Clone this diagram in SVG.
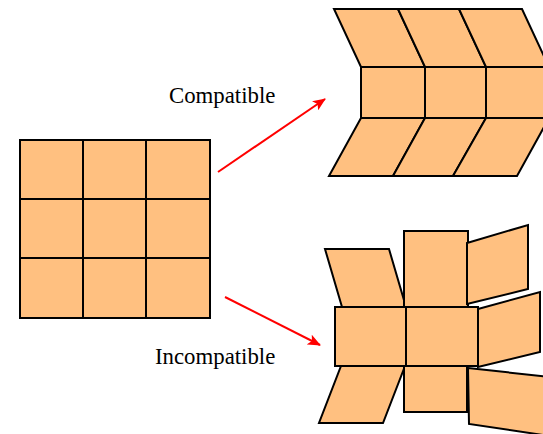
<svg xmlns="http://www.w3.org/2000/svg" width="543" height="434" viewBox="0 0 543 434">
  <style>
    .tile { fill: #FFC080; stroke: #000; stroke-width: 2; stroke-linejoin: miter; }
    .arrow { stroke: #FF0000; stroke-width: 2; fill: none; }
    .label { font-family: "Liberation Serif", "Times New Roman", serif; font-size: 22.8px; fill: #000; }
  </style>
  <defs>
    <marker id="head" markerWidth="13" markerHeight="11" refX="12" refY="5.5" orient="auto" markerUnits="userSpaceOnUse">
      <path d="M0,0 L13,5.5 L0,11 L3,5.5 Z" fill="#FF0000"/>
    </marker>
  </defs>
  <rect width="543" height="434" fill="#fff"/>

  <!-- source 3x3 grid -->
  <g id="grid">
    <rect class="tile" x="20" y="140" width="63" height="59"/>
    <rect class="tile" x="83" y="140" width="63" height="59"/>
    <rect class="tile" x="146" y="140" width="64" height="59"/>
    <rect class="tile" x="20" y="199" width="63" height="59"/>
    <rect class="tile" x="83" y="199" width="63" height="59"/>
    <rect class="tile" x="146" y="199" width="64" height="59"/>
    <rect class="tile" x="20" y="258" width="63" height="60"/>
    <rect class="tile" x="83" y="258" width="63" height="60"/>
    <rect class="tile" x="146" y="258" width="64" height="60"/>
  </g>

  <!-- compatible deformation: chevron rows -->
  <g id="compatible">
    <polygon class="tile" points="334,9 398,9 425,67 361,67"/>
    <polygon class="tile" points="398,9 459,9 486,67 425,67"/>
    <polygon class="tile" points="459,9 522,9 549,67 486,67"/>
    <rect class="tile" x="361" y="67" width="64" height="51"/>
    <rect class="tile" x="425" y="67" width="61" height="51"/>
    <rect class="tile" x="486" y="67" width="63" height="51"/>
    <polygon class="tile" points="361,118 425,118 393,176 329,176"/>
    <polygon class="tile" points="425,118 486,118 453,176 393,176"/>
    <polygon class="tile" points="486,118 549,118 517,176 453,176"/>
  </g>

  <!-- incompatible deformation: gaps and overlaps -->
  <g id="incompatible">
    <polygon class="tile" points="325,249 389,249 406,307 342,307"/>
    <rect class="tile" x="404" y="231" width="64" height="76"/>
    <polygon class="tile" points="467,243 528,225 528,289 467,304"/>
    <polygon class="tile" points="478,309 540,292 540,352 478,367"/>
    <polygon class="tile" points="341,366 405,366 383,423 319,423"/>
    <rect class="tile" x="404" y="366" width="63" height="46"/>
    <polygon class="tile" points="468,368 550,377 550,436 469,424"/>
    <rect class="tile" x="335" y="307" width="71" height="59"/>
    <rect class="tile" x="406" y="307" width="72" height="59"/>
  </g>

  <g id="connectors">
    <line class="arrow" x1="218" y1="172" x2="325" y2="99" marker-end="url(#head)"/>
    <line class="arrow" x1="225" y1="297" x2="320" y2="345" marker-end="url(#head)"/>
  </g>

  <g id="labels">
    <text class="label" x="169" y="103">Compatible</text>
    <text class="label" x="155" y="364">Incompatible</text>
  </g>
</svg>
